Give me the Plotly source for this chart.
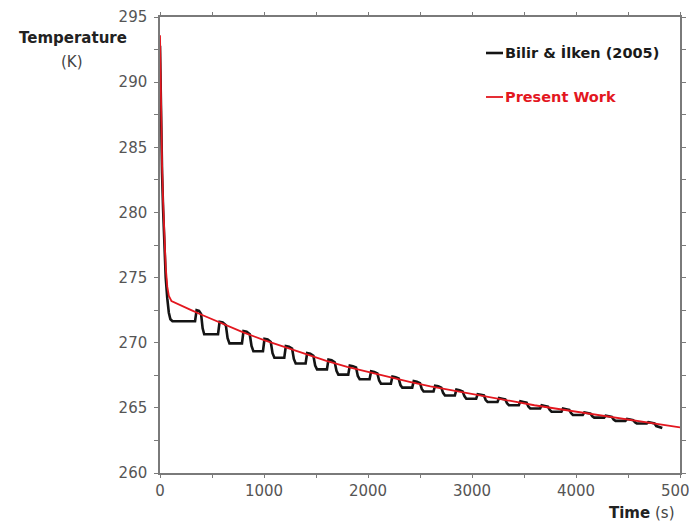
import plotly.graph_objects as go

# ---- data ----
present_t = [0, 5, 10, 20, 30, 40, 55, 70, 85, 110, 200, 300, 400, 500, 600, 800, 1000,
             1200, 1400, 1600, 1800, 2000, 2200, 2400, 2600, 2800, 3000, 3200, 3400,
             3600, 3800, 4000, 4200, 4400, 4600, 4800, 5000]
present_T = [293.6, 290.2, 287.6, 283.6, 280.8, 278.4, 275.8, 274.3, 273.6, 273.2, 272.85,
             272.5, 272.15, 271.8, 271.45, 270.8, 270.2, 269.65, 269.1, 268.6, 268.15, 267.75,
             267.35, 267.0, 266.65, 266.35, 266.05, 265.75, 265.5, 265.2, 264.95, 264.7,
             264.45, 264.2, 263.95, 263.75, 263.5]

bilir_t = [0, 5, 10, 20, 30, 40, 55, 70, 85, 100, 120,
           337, 352, 375, 395, 410, 425,
           558, 573, 603, 633, 650, 668,
           788, 803, 833, 863, 880, 898,
           990, 1005, 1035, 1065, 1082, 1100,
           1195, 1210, 1240, 1270, 1287, 1305,
           1400, 1415, 1445, 1475, 1492, 1510,
           1605, 1620, 1650, 1680, 1697, 1715,
           1810, 1825, 1855, 1885, 1902, 1920,
           2015, 2030, 2060, 2090, 2107, 2125,
           2220, 2235, 2265, 2295, 2312, 2330,
           2425, 2440, 2470, 2500, 2517, 2535,
           2630, 2645, 2675, 2705, 2722, 2740,
           2835, 2850, 2880, 2910, 2927, 2945,
           3040, 3055, 3085, 3115, 3132, 3150,
           3245, 3260, 3290, 3320, 3337, 3355,
           3450, 3465, 3495, 3525, 3542, 3560,
           3655, 3670, 3700, 3730, 3747, 3765,
           3860, 3875, 3905, 3935, 3952, 3970,
           4065, 4080, 4110, 4140, 4157, 4175,
           4270, 4285, 4315, 4345, 4362, 4380,
           4475, 4490, 4520, 4550, 4567, 4585,
           4680, 4695, 4725, 4755, 4772, 4790, 4830]
bilir_T = [292.8, 289.5, 287.0, 283.0, 280.2, 277.7, 275.0, 273.4, 272.3, 271.8, 271.65,
           271.65, 272.5, 272.45, 272.2, 271.1, 270.65,
           270.65, 271.6, 271.55, 271.35, 270.35, 269.95,
           269.95, 270.9, 270.85, 270.65, 269.75, 269.35,
           269.35, 270.3, 270.25, 270.05, 269.2, 268.85,
           268.85, 269.75, 269.7, 269.55, 268.75, 268.4,
           268.4, 269.2, 269.15, 269.0, 268.25, 267.95,
           267.95, 268.7, 268.65, 268.5, 267.85, 267.55,
           267.55, 268.25, 268.2, 268.1, 267.45, 267.2,
           267.2, 267.8, 267.75, 267.65, 267.1, 266.85,
           266.85, 267.4, 267.35, 267.25, 266.75, 266.55,
           266.55, 267.05, 267.0, 266.9, 266.45, 266.25,
           266.25, 266.7, 266.65, 266.55, 266.15, 265.95,
           265.95, 266.4, 266.35, 266.25, 265.9, 265.7,
           265.7, 266.05, 266.0, 265.95, 265.6, 265.45,
           265.45, 265.75, 265.7, 265.65, 265.35, 265.2,
           265.2, 265.5, 265.45, 265.4, 265.1, 264.95,
           264.95, 265.2, 265.15, 265.1, 264.85, 264.7,
           264.7, 264.95, 264.9, 264.85, 264.6, 264.45,
           264.45, 264.65, 264.6, 264.55, 264.35, 264.25,
           264.25, 264.4, 264.35, 264.3, 264.1, 264.0,
           264.0, 264.15, 264.1, 264.05, 263.9, 263.8,
           263.8, 263.9, 263.85, 263.8, 263.6, 263.55, 263.45]

x_ticks = [0, 500, 1000, 1500, 2000, 2500, 3000, 3500, 4000, 4500, 5000]
x_labels = ["0", "", "1000", "", "2000", "", "3000", "", "4000", "", "5000"]
y_ticks = [260, 262.5, 265, 267.5, 270, 272.5, 275, 277.5, 280, 282.5, 285, 287.5, 290, 292.5, 295]
y_labels = ["260", "", "265", "", "270", "", "275", "", "280", "", "285", "", "290", "", "295"]

FONT = "DejaVu Sans"
AX = "#7a7a7a"
RED = "#e3171f"

fig = go.Figure()
fig.add_trace(go.Scatter(x=bilir_t, y=bilir_T, mode="lines",
                         line=dict(color="#141414", width=2.6), showlegend=False))
fig.add_trace(go.Scatter(x=present_t, y=present_T, mode="lines",
                         line=dict(color=RED, width=1.8), showlegend=False))

common_x = dict(range=[0, 5000], tickvals=x_ticks, showgrid=False, zeroline=False,
                automargin=False)
common_y = dict(range=[260, 295], tickvals=y_ticks, showgrid=False, zeroline=False,
                automargin=False)

# the page body adds an 8 px margin, so the figure is 8 px smaller than the window
fig.update_layout(
    width=689, height=521,
    margin=dict(l=152, r=17, t=9, b=56),
    paper_bgcolor="white", plot_bgcolor="white",
    font=dict(family=FONT, size=15, color="#555555"),
    xaxis=dict(**common_x, ticktext=x_labels, ticks="outside", ticklen=3, tickwidth=1.3,
               tickcolor=AX, showline=True, linecolor=AX, linewidth=1.5, mirror="ticks",
               ticklabeloverflow="allow",
               tickfont=dict(family=FONT, size=15, color="#555555")),
    xaxis2=dict(**common_x, overlaying="x", anchor="y", side="bottom", ticks="inside",
                ticklen=5, tickwidth=1.3, tickcolor=AX, showticklabels=False,
                showline=False, mirror="ticks"),
    yaxis=dict(**common_y, ticktext=y_labels, ticks="outside", ticklen=4, tickwidth=1.3,
               tickcolor=AX, showline=True, linecolor=AX, linewidth=1.5, mirror="ticks",
               ticklabelstandoff=4, ticklabeloverflow="allow",
               tickfont=dict(family=FONT, size=15, color="#555555")),
    yaxis2=dict(**common_y, overlaying="y", anchor="x", side="left", ticks="inside",
                ticklen=5, tickwidth=1.3, tickcolor=AX, showticklabels=False,
                showline=False, mirror="ticks"),
)

def px(x):
    return (x - 160) / 520.0

def py(y):
    return (473 - y) / 456.0

# legend drawn manually
fig.add_shape(type="line", xref="paper", yref="paper", x0=px(486), x1=px(503),
              y0=py(53), y1=py(53), line=dict(color="#141414", width=2.6))
fig.add_shape(type="line", xref="paper", yref="paper", x0=px(486), x1=px(503),
              y0=py(97), y1=py(97), line=dict(color=RED, width=1.8))
fig.add_annotation(xref="paper", yref="paper", x=px(503), y=py(53), xanchor="left",
                   yanchor="middle", showarrow=False, text="<b>Bilir & İlken (2005)</b>",
                   font=dict(family=FONT, size=14.5, color="#1a1a1a"))
fig.add_annotation(xref="paper", yref="paper", x=px(503), y=py(97), xanchor="left",
                   yanchor="middle", showarrow=False, text="<b>Present Work</b>",
                   font=dict(family=FONT, size=14.5, color=RED))

# axis titles
fig.add_annotation(xref="paper", yref="paper", x=px(73), y=py(38), xanchor="center",
                   yanchor="middle", showarrow=False, text="<b>Temperature</b>",
                   font=dict(family=FONT, size=15, color="#222222"))
fig.add_annotation(xref="paper", yref="paper", x=px(72), y=py(62), xanchor="center",
                   yanchor="middle", showarrow=False, text="(K)",
                   font=dict(family=FONT, size=15, color="#444444"))
fig.add_annotation(xref="paper", yref="paper", x=px(642), y=py(513), xanchor="center",
                   yanchor="middle", showarrow=False,
                   text="<b>Time</b> <span style='color:#444444'>(s)</span>",
                   font=dict(family=FONT, size=15, color="#222222"))

fig.write_html("out.html")
